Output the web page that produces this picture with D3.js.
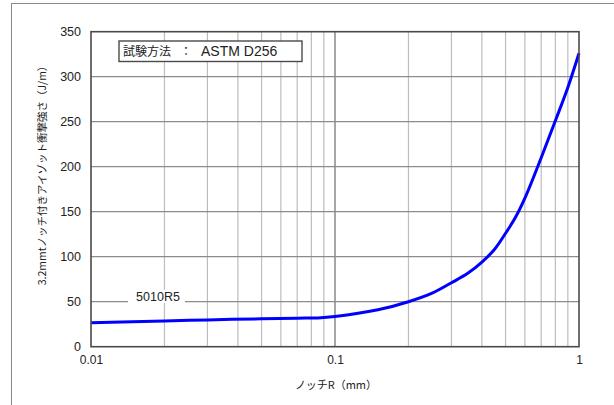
<!DOCTYPE html>
<html>
<head>
<meta charset="utf-8">
<script src="https://cdn.jsdelivr.net/npm/d3@7/dist/d3.min.js"></script>
<style>
  html, body { margin: 0; padding: 0; background: #fff; }
  svg { display: block; }
  text { font-family: "Liberation Sans", Arial, "Noto Sans CJK JP", sans-serif; fill: #222; }
  .jp { font-family: "Noto Sans CJK JP", "Liberation Sans", sans-serif; }
</style>
</head>
<body>
<svg id="chart" width="614" height="405"></svg>
<script>
// Notch radius (mm) and notched Izod impact strength (J/m) for grade 5010R5
const notchR = [0.01, 0.02, 0.03, 0.05, 0.07, 0.085, 0.1, 0.15, 0.2, 0.25, 0.3, 0.35, 0.4, 0.45, 0.5, 0.55, 0.6, 0.7, 0.8, 0.9, 1.0];
const impact = [26.5, 28.5, 29.8, 31, 31.7, 32, 33.5, 41, 50, 59.5, 71, 81.5, 94, 108, 126, 144, 165, 210, 251, 288, 326];

const xTickValues = [0.01, 0.1, 1];
const xTickLabels = ["0.01", "0.1", "1"];
const yTickValues = [0, 50, 100, 150, 200, 250, 300, 350];

const seriesName = "5010R5";
const methodLabel = "試験方法";
const methodValue = "ASTM D256";
const xTitle = "ノッチR（mm）";
const yTitle = "3.2mmtノッチ付きアイゾット衝撃強さ（J/m）";

const svg = d3.select("#chart");
const m = { left: 91, right: 579, top: 31.7, bottom: 346.7 };
const W = m.right - m.left, H = m.bottom - m.top;

// outer frame (extends past the page on the right and bottom)
svg.append("rect")
  .attr("x", 11.5).attr("y", 3.5).attr("width", 700).attr("height", 500)
  .attr("fill", "none").attr("stroke", "#8a8a8a").attr("stroke-width", 1);

const x = d3.scaleLog().domain([0.01, 1]).range([m.left, m.right]);
const y = d3.scaleLinear().domain([0, 350]).range([m.bottom, m.top]);

const g = svg.append("g");

// minor vertical gridlines (2..9 within each decade)
const minor = [];
[0.01, 0.1].forEach(d => { for (let k = 2; k <= 9; k++) minor.push(d * k); });
g.append("g").selectAll("line").data(minor).join("line")
  .attr("x1", d => x(d)).attr("x2", d => x(d))
  .attr("y1", m.top).attr("y2", m.bottom)
  .attr("stroke", "#bdbdbd").attr("stroke-width", 1.2);

// major vertical gridline at decades
g.append("g").selectAll("line").data([0.1]).join("line")
  .attr("x1", d => x(d)).attr("x2", d => x(d))
  .attr("y1", m.top).attr("y2", m.bottom)
  .attr("stroke", "#6a6a6a").attr("stroke-width", 1.2);

// horizontal gridlines
g.append("g").selectAll("line").data(yTickValues.slice(1, -1)).join("line")
  .attr("x1", m.left).attr("x2", m.right)
  .attr("y1", d => y(d)).attr("y2", d => y(d))
  .attr("stroke", "#8c8c8c").attr("stroke-width", 1.2);

// axes (labels only)
const yAxis = d3.axisLeft(y).tickValues(yTickValues).tickSize(0).tickPadding(10);
const yg = svg.append("g").attr("transform", `translate(${m.left},0)`).call(yAxis);
yg.select(".domain").remove();
yg.selectAll("text").attr("font-size", 12.5).attr("fill", "#222")
  .style("font-family", "'Liberation Sans', Arial, sans-serif");

const xAxis = d3.axisBottom(x).tickValues(xTickValues)
  .tickFormat((d, i) => xTickLabels[i]).tickSize(0).tickPadding(9);
const xg = svg.append("g").attr("transform", `translate(0,${m.bottom})`).call(xAxis);
xg.select(".domain").remove();
xg.selectAll("text").attr("font-size", 12).attr("fill", "#222")
  .style("font-family", "'Liberation Sans', Arial, sans-serif");

// series label sitting on the 50 gridline
svg.append("rect").attr("x", 128).attr("y", 290).attr("width", 57).attr("height", 13).attr("fill", "#fff");
svg.append("text").attr("x", 158).attr("y", 301).attr("text-anchor", "middle")
  .attr("font-size", 12.5).text(seriesName);

// curve
const line = d3.line()
  .x((d, i) => x(notchR[i]))
  .y(d => y(d))
  .curve(d3.curveCatmullRom.alpha(0.5));
svg.append("path").datum(impact)
  .attr("d", line)
  .attr("fill", "none").attr("stroke", "#0000ff").attr("stroke-width", 3)
  .attr("stroke-linejoin", "round");

// plot frame
svg.append("rect").attr("x", m.left).attr("y", m.top).attr("width", W).attr("height", H)
  .attr("fill", "none").attr("stroke", "#4a4a4a").attr("stroke-width", 1.6);

// test method box
svg.append("rect").attr("x", 119).attr("y", 41).attr("width", 183).attr("height", 20.5)
  .attr("fill", "#fff").attr("stroke", "#4a4a4a").attr("stroke-width", 1.4);
svg.append("text").attr("class", "jp").attr("x", 123).attr("y", 56)
  .attr("font-size", 12).text(methodLabel);
svg.append("text").attr("class", "jp").attr("x", 186).attr("y", 56).attr("text-anchor", "middle")
  .attr("font-size", 12).text("：");
svg.append("text").attr("x", 201).attr("y", 55.5)
  .attr("font-size", 14).text(methodValue);

// axis titles
svg.append("text").attr("class", "jp").attr("x", 336).attr("y", 389)
  .attr("text-anchor", "middle").attr("font-size", 11).text(xTitle);
svg.append("text").attr("class", "jp")
  .attr("transform", "translate(46,173) rotate(-90)")
  .attr("text-anchor", "middle").attr("font-size", 10.5).text(yTitle);
</script>
</body>
</html>
